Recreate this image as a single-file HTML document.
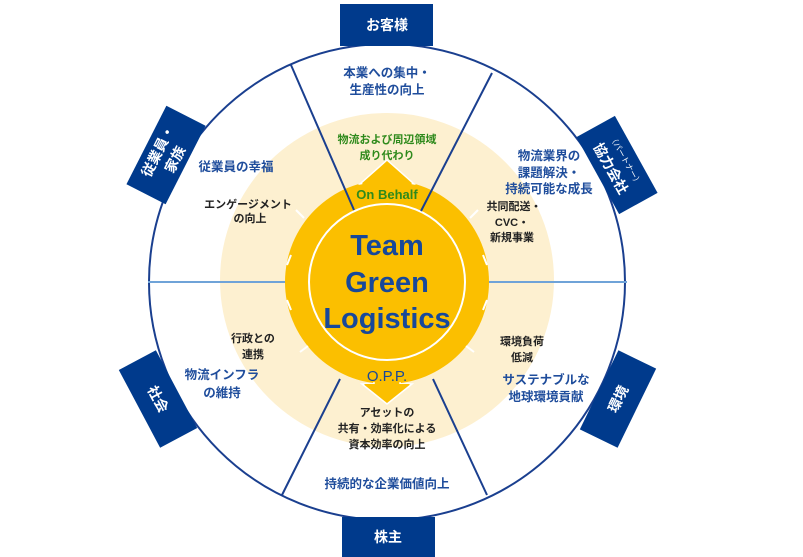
<!DOCTYPE html>
<html><head><meta charset="utf-8"><style>
html,body{margin:0;padding:0;background:#fff;}
svg{display:block;}
text{font-family:"Liberation Sans","Noto Sans CJK JP",sans-serif;text-anchor:middle;}
.b{fill:#1f4d9c;font-weight:bold;font-size:12.5px;}
.k{fill:#222;font-weight:bold;font-size:11px;}
.g{fill:#2f8a1c;font-weight:bold;}
.w{fill:#fff;font-weight:bold;font-size:14px;}
</style></head><body>
<svg width="803" height="557" viewBox="0 0 803 557" xmlns="http://www.w3.org/2000/svg">
<circle cx="387" cy="282" r="238" fill="#fff" stroke="#1a3f8f" stroke-width="2"/>
<circle cx="387" cy="280" r="167" fill="#fdf0d0"/>
<line x1="148" y1="282" x2="290" y2="282" stroke="#6fa3d8" stroke-width="2"/>
<line x1="485" y1="282" x2="627" y2="282" stroke="#6fa3d8" stroke-width="2"/>
<line x1="340" y1="379" x2="282" y2="495" stroke="#1a3f8f" stroke-width="2"/>
<line x1="433" y1="379" x2="487" y2="495" stroke="#1a3f8f" stroke-width="2"/>
<!-- gear -->
<circle cx="387" cy="282" r="102" fill="#fbbf00"/>
<polygon points="387,160 414,184 401,184 401,192 373,192 373,184 360,184" fill="#fbbf00" stroke="#fff" stroke-width="1.5"/>
<polygon points="387,404 412,384 400,384 400,372 374,372 374,384 362,384" fill="#fbbf00" stroke="#fff" stroke-width="1.5"/>
<circle cx="387" cy="282" r="101" fill="#fbbf00"/>
<polygon points="387,162 412,184 362,184" fill="#fbbf00"/>
<polygon points="387,402 410,384 364,384" fill="#fbbf00"/>
<g stroke="#fff" stroke-width="2" fill="none">
<path d="M296,210 l8,8"/><path d="M287,265 l4,-10"/><path d="M287,300 l4,10"/><path d="M300,352 l8,-6"/>
<path d="M478,210 l-8,8"/><path d="M487,265 l-4,-10"/><path d="M487,300 l-4,10"/><path d="M474,352 l-8,-6"/>
</g>
<circle cx="387" cy="282" r="78" fill="#fbbf00" stroke="#fff" stroke-width="2"/>
<line x1="291" y1="65" x2="354" y2="210" stroke="#1a3f8f" stroke-width="2"/>
<line x1="492" y1="73" x2="421" y2="211" stroke="#1a3f8f" stroke-width="2"/>
<!-- boxes -->
<rect x="340" y="4" width="93" height="42" fill="#003a8c"/>
<text class="w" x="387" y="30">お客様</text>
<rect x="342" y="517" width="93" height="40" fill="#003a8c"/>
<text class="w" x="388" y="542">株主</text>
<g transform="translate(166,155) rotate(-63)">
<rect x="-44" y="-22" width="88" height="44" fill="#003a8c"/>
<text class="w" x="0" y="-4">従業員・</text>
<text class="w" x="0" y="15">家族</text>
</g>
<g transform="translate(617,165) rotate(61)">
<rect x="-44" y="-22" width="88" height="44" fill="#003a8c"/>
<text fill="#fff" font-size="8" x="0" y="-7">（パートナー）</text>
<text class="w" x="0" y="12">協力会社</text>
</g>
<g transform="translate(158,399) rotate(62)">
<rect x="-44" y="-21" width="88" height="42" fill="#003a8c"/>
<text class="w" x="0" y="5">社会</text>
</g>
<g transform="translate(618,399) rotate(-64)">
<rect x="-44" y="-21" width="88" height="42" fill="#003a8c"/>
<text class="w" x="0" y="5">環境</text>
</g>
<!-- texts -->
<text class="b" x="387" y="77">本業への集中・</text>
<text class="b" x="387" y="94">生産性の向上</text>
<text class="g" font-size="11" x="387" y="143">物流および周辺領域</text>
<text class="g" font-size="11" x="387" y="159">成り代わり</text>
<text class="g" font-size="13" x="387" y="199">On Behalf</text>
<text fill="#17489a" font-weight="bold" font-size="29" x="387" y="255">Team</text>
<text fill="#17489a" font-weight="bold" font-size="29" x="387" y="292">Green</text>
<text fill="#17489a" font-weight="bold" font-size="29" x="387" y="328">Logistics</text>
<text fill="#17489a" font-size="15" x="387" y="381">O.P.P.</text>
<text class="b" x="236" y="171">従業員の幸福</text>
<text class="k" x="248" y="208">エンゲージメント</text>
<text class="k" x="250" y="222">の向上</text>
<text class="b" x="549" y="160">物流業界の</text>
<text class="b" x="549" y="177">課題解決・</text>
<text class="b" x="549" y="193">持続可能な成長</text>
<text class="k" x="514" y="210">共同配送・</text>
<text class="k" x="512" y="226">CVC・</text>
<text class="k" x="512" y="241">新規事業</text>
<text class="k" x="253" y="342">行政との</text>
<text class="k" x="253" y="358">連携</text>
<text class="b" x="222" y="379">物流インフラ</text>
<text class="b" x="222" y="397">の維持</text>
<text class="k" x="522" y="345">環境負荷</text>
<text class="k" x="522" y="361">低減</text>
<text class="b" x="546" y="384">サステナブルな</text>
<text class="b" x="546" y="401">地球環境貢献</text>
<text class="k" x="387" y="416">アセットの</text>
<text class="k" x="387" y="432">共有・効率化による</text>
<text class="k" x="387" y="448">資本効率の向上</text>
<text class="b" x="387" y="488">持続的な企業価値向上</text>
</svg>
</body></html>
